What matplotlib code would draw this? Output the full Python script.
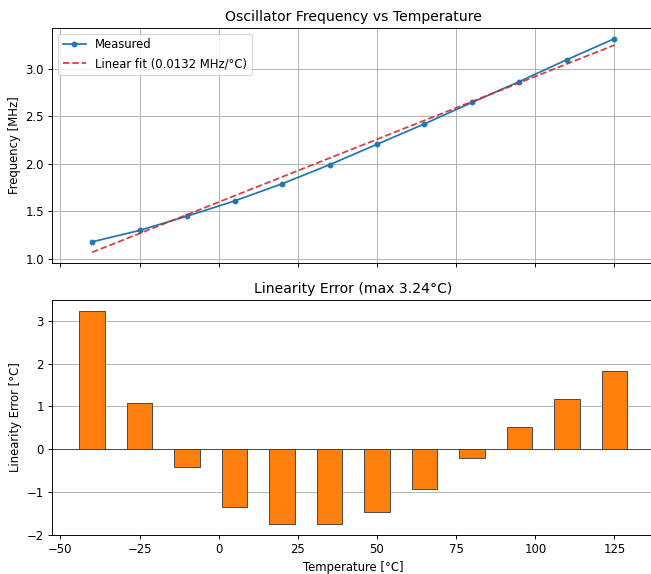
import matplotlib
matplotlib.use("Agg")
import matplotlib.pyplot as plt
import numpy as np

temps = [-40, -25, -10, 5, 20, 35, 50, 65, 80, 95, 110, 125]
freq_mhz = [1.18, 1.30, 1.45, 1.61, 1.79, 1.99, 2.205, 2.42, 2.645, 2.865, 3.095, 3.315]
fit_slope = 0.0132
fit_intercept = 1.598
lin_err = [3.24, 1.07, -0.41, -1.36, -1.76, -1.76, -1.48, -0.94, -0.21, 0.51, 1.17, 1.82]

DPI = 84
W, H = 651, 574
t = np.array(temps)
fig, (ax1, ax2) = plt.subplots(2, 1, figsize=(W / DPI, H / DPI), dpi=DPI, sharex=True)
fig.subplots_adjust(left=52 / W, right=654.5 / W, top=1 - 28 / H, bottom=1 - 535 / H,
                    hspace=(300 - 263) / ((535 - 28 - 37) / 2))

ax1.plot(t, freq_mhz, marker='o', markersize=4, color='C0', label='Measured')
ax1.plot(t, fit_intercept + fit_slope * t, '--', color='tab:red', alpha=0.9,
         label=f'Linear fit ({fit_slope:.4f} MHz/°C)')
ax1.set_ylabel('Frequency [MHz]')
ax1.set_title('Oscillator Frequency vs Temperature')
ax1.grid(True)
ax1.legend(loc='upper left')

ax2.bar(t, lin_err, width=8, color='C1', edgecolor='#444444', linewidth=0.8)
ax2.axhline(0, color='#444444', linewidth=0.8)
ax2.set_ylabel('Linearity Error [°C]')
ax2.set_xlabel('Temperature [°C]')
ax2.set_title(f'Linearity Error (max {max(abs(e) for e in lin_err):.2f}°C)')
ax2.grid(True, axis='y')
ax2.set_axisbelow(True)

fig.savefig('out.png', dpi=DPI)
